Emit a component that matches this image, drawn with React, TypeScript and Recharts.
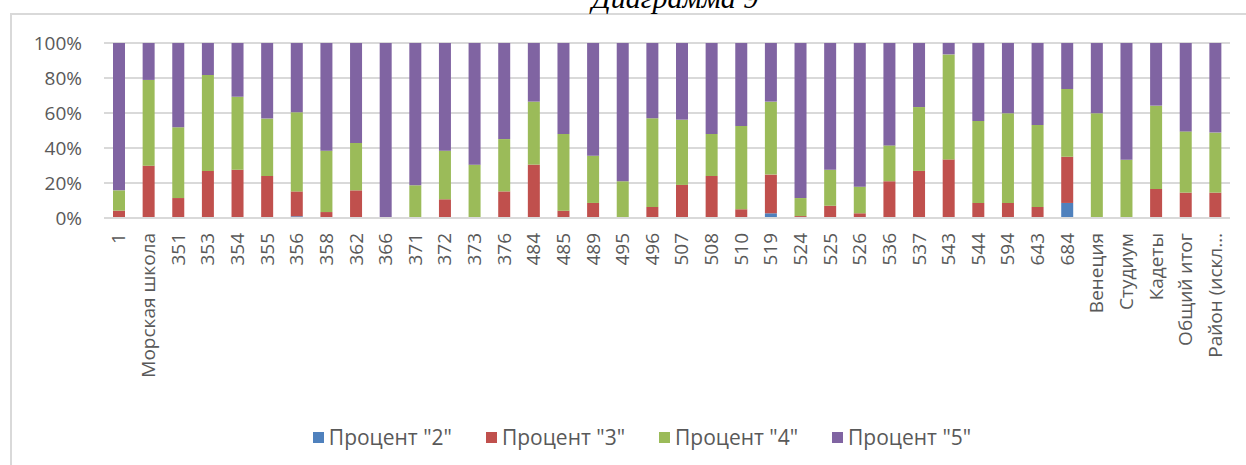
import { BarChart, Bar, XAxis, YAxis, CartesianGrid, Legend } from 'recharts';

const categories = [
    '1', 'Морская школа', '351', '353', '354', '355', '356', '358', '362', '366',
    '371', '372', '373', '376', '484', '485', '489', '495', '496', '507',
    '508', '510', '519', '524', '525', '526', '536', '537', '543', '544',
    '594', '643', '684', 'Венеция', 'Студиум', 'Кадеты', 'Общий итог', 'Район (искл…',
];

const pct2 = [
    0, 0, 0, 0, 0, 0, 1, 0, 0, 0,
    0, 0, 0, 0, 0, 0, 0, 0, 0, 0,
    0, 0, 2.7, 0, 0, 0, 0, 0, 0, 0,
    0, 0, 8.6, 0, 0, 0, 0, 0,
];
const pct3 = [
    4.2, 29.9, 11.4, 26.9, 27.6, 24, 14.2, 3.4, 15.8, 0,
    0, 10.7, 0, 15.2, 30.5, 4.2, 8.6, 0, 6.3, 18.9,
    24, 5, 22.1, 1.1, 7, 2.7, 21, 26.9, 33.5, 8.6,
    8.6, 6.3, 26.4, 0, 0, 16.6, 14.5, 14.5,
];
const pct4 = [
    11.6, 49, 40.4, 54.8, 41.7, 32.8, 45.2, 35.1, 27.1, 0,
    18.7, 27.8, 30.5, 29.9, 36, 43.8, 27, 21, 50.7, 37.3,
    24, 47.6, 41.7, 10.3, 20.6, 15.2, 20.5, 36.5, 60, 46.8,
    51.2, 46.8, 38.7, 59.8, 33.3, 47.6, 35, 34.3,
];
const pct5 = [
    84.2, 21.1, 48.2, 18.3, 30.7, 43.2, 39.6, 61.5, 57.1, 100,
    81.3, 61.5, 69.5, 54.9, 33.5, 52, 64.4, 79, 43, 43.8,
    52, 47.4, 33.5, 88.6, 72.4, 82.1, 58.5, 36.6, 6.5, 44.6,
    40.2, 46.9, 26.3, 40.2, 66.7, 35.8, 50.5, 51.2,
];
const yTicks = [0, 20, 40, 60, 80, 100];

const data = categories.map((name, i) => ({
    name,
    p2: pct2[i],
    p3: pct3[i],
    p4: pct4[i],
    p5: pct5[i],
}));

const FONT = '"Open Sans", sans-serif';
const TEXT = '#595959';
const GRID = '#d9d9d9';

function CategoryTick(props: any) {
    const { x, y, payload } = props;
    return (
        <g transform={`translate(${x},${y})`}>
            <text
                transform="rotate(-90)"
                x={-15}
                y={0}
                dy="0.35em"
                textAnchor="end"
                fill={TEXT}
                fontSize={19}
                fontFamily={FONT}
            >
                {payload.value}
            </text>
        </g>
    );
}

function renderLegend(props: any) {
    const { payload } = props;
    return (
        <div
            style={{
                display: 'flex',
                justifyContent: 'center',
                alignItems: 'center',
                gap: 34,
                height: 24,
                paddingLeft: 38,
                fontFamily: FONT,
                fontSize: 21,
                lineHeight: '24px',
                color: TEXT,
            }}
        >
            {payload.map((p: any) => (
                <div key={p.value} style={{ display: 'flex', alignItems: 'center' }}>
                    <span style={{ width: 11, height: 11, background: p.color, marginRight: 5 }} />
                    {p.value}
                </div>
            ))}
        </div>
    );
}

export default function App() {
    return (
        <div style={{ position: 'absolute', left: 0, top: 0, width: 1246, height: 465, overflow: 'hidden', background: '#fff' }}>
            {/* outer chart frame, runs past the right and bottom edges */}
            <div style={{ position: 'absolute', left: 10, top: 13, width: 1300, height: 600, border: `2px solid ${GRID}` }} />
            <svg width={1246} height={20} style={{ position: 'absolute', left: 0, top: 0 }}>
                <text x={675} y={7.5} textAnchor="middle" fontSize={30} fontStyle="italic" fontFamily='"Liberation Serif", serif' fill="#000">
                    Диаграмма 9
                </text>
            </svg>
            <div style={{ position: 'absolute', left: 0, top: 0 }}>
                <BarChart width={1246} height={465} data={data} margin={{ top: 43, right: 16, left: 0, bottom: 16 }}>
                    <CartesianGrid vertical={false} stroke={GRID} strokeWidth={2} />
                    <XAxis
                        dataKey="name"
                        interval={0}
                        height={207}
                        tick={<CategoryTick />}
                        tickLine={false}
                        tickSize={0}
                        tickMargin={0}
                        axisLine={{ stroke: GRID, strokeWidth: 2 }}
                    />
                    <YAxis
                        type="number"
                        domain={[0, 100]}
                        ticks={yTicks}
                        allowDataOverflow
                        width={104}
                        axisLine={false}
                        tickLine={false}
                        tickSize={0}
                        tickMargin={22}
                        tickFormatter={(v: number) => `${v}%`}
                        tick={{ fill: TEXT, fontSize: 19, fontFamily: FONT }}
                    />
                    <Legend verticalAlign="bottom" content={renderLegend} wrapperStyle={{ left: 0, width: 1246 }} />
                    <Bar dataKey="p2" name='Процент "2"' stackId="a" fill="#4f81bd" barSize={12} isAnimationActive={false} />
                    <Bar dataKey="p3" name='Процент "3"' stackId="a" fill="#c0504d" barSize={12} isAnimationActive={false} />
                    <Bar dataKey="p4" name='Процент "4"' stackId="a" fill="#9bbb59" barSize={12} isAnimationActive={false} />
                    <Bar dataKey="p5" name='Процент "5"' stackId="a" fill="#8064a2" barSize={12} isAnimationActive={false} />
                </BarChart>
            </div>
        </div>
    );
}
